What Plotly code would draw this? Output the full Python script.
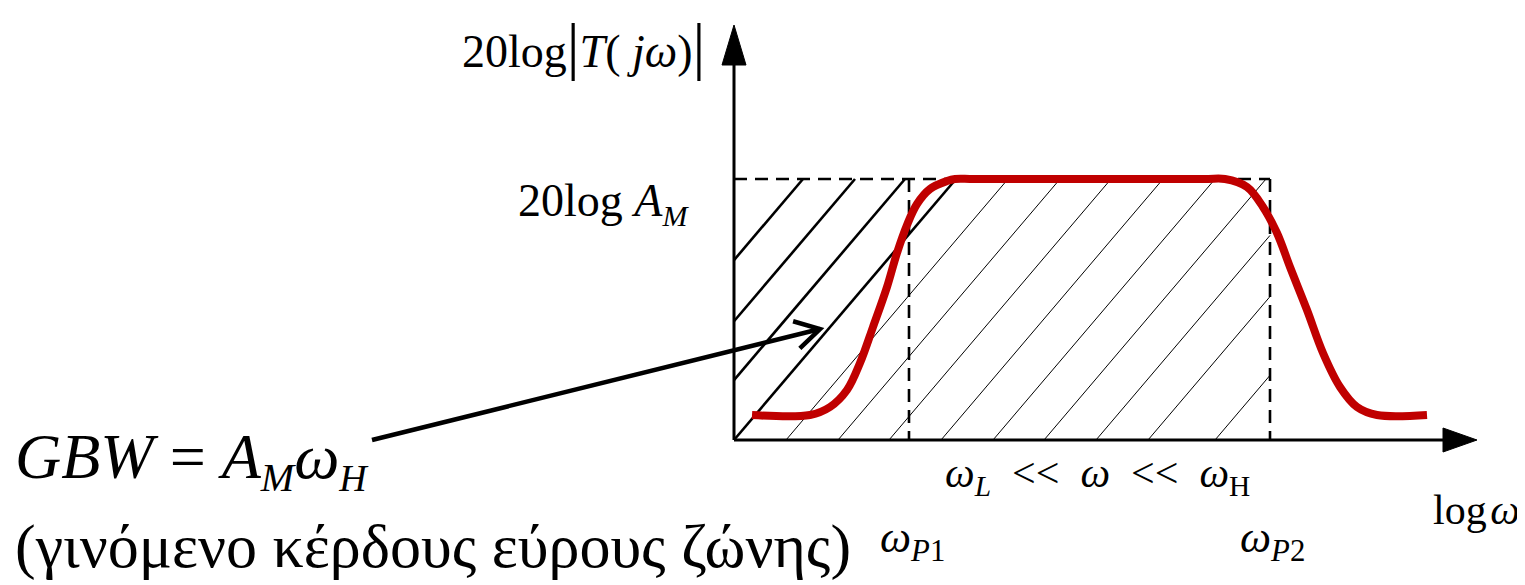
import math
import plotly.graph_objects as go

# ---------------- data (diagram units: x = log-frequency, y = gain in dB) ----------------
curve_logw = [18, 76, 96, 113, 126, 139, 153, 163, 173, 183, 196, 213, 221, 240,
              470, 491, 513, 529, 543, 556, 573, 589, 606, 623, 643, 693]
curve_db = [25, 25, 33, 50, 77, 113, 153, 187, 215, 236, 251, 259, 261, 261,
            261, 261, 253, 233, 207, 173, 130, 87, 53, 33, 25, 25]

gain_AM = 261          # 20log A_M level
w_P1 = 175             # lower corner frequency
w_P2 = 536             # upper corner frequency
y_axis_top = 415       # y-axis arrow tip
x_axis_end = 743       # x-axis arrow tip

hatch_thick_offsets = [-153, -101, -51, 0]
hatch_thin_offsets = [52, 104, 155, 207, 259, 310, 362, 414, 481]
hatch_slope = 261 / 222

arrow_tail = (-362, 0)
arrow_tip = (86, 111)

FONT = "Liberation Serif"
RED = "#C00000"

fig = go.Figure()

# ---------------- hatch ----------------
def hatch_segment(b):
    if b < 0:
        p0 = (0, -b * hatch_slope)
    else:
        p0 = (b, 0)
    xt = b + gain_AM / hatch_slope
    if xt > w_P2:
        p1 = (w_P2, (w_P2 - b) * hatch_slope)
    else:
        p1 = (xt, gain_AM)
    return p0, p1

for offsets, width in ((hatch_thin_offsets, 1), (hatch_thick_offsets, 2.6)):
    xs, ys = [], []
    for b in offsets:
        p0, p1 = hatch_segment(b)
        xs += [p0[0], p1[0], None]
        ys += [p0[1], p1[1], None]
    fig.add_trace(go.Scatter(x=xs, y=ys, mode="lines",
                             line=dict(color="black", width=width),
                             hoverinfo="skip", showlegend=False))

# ---------------- dashed guide lines ----------------
fig.add_trace(go.Scatter(
    x=[0, w_P2, None, w_P1, w_P1, None, w_P2, w_P2],
    y=[gain_AM, gain_AM, None, gain_AM, 0, None, gain_AM, 0],
    mode="lines", line=dict(color="black", width=2.6, dash="13px,8px"),
    hoverinfo="skip", showlegend=False))

# ---------------- axes with arrow heads ----------------
fig.add_trace(go.Scatter(
    x=[0, 0, None, 0, x_axis_end - 34],
    y=[y_axis_top - 40, 0, None, 0, 0],
    mode="lines", line=dict(color="black", width=3),
    hoverinfo="skip", showlegend=False))
fig.add_trace(go.Scatter(
    x=[-12, 12, 0, -12], y=[y_axis_top - 40, y_axis_top - 40, y_axis_top, y_axis_top - 40],
    mode="lines", fill="toself", fillcolor="black", line=dict(color="black", width=1),
    hoverinfo="skip", showlegend=False))
fig.add_trace(go.Scatter(
    x=[x_axis_end - 34, x_axis_end - 34, x_axis_end, x_axis_end - 34], y=[-12, 12, 0, -12],
    mode="lines", fill="toself", fillcolor="black", line=dict(color="black", width=1),
    hoverinfo="skip", showlegend=False))

# ---------------- red response curve ----------------
fig.add_trace(go.Scatter(
    x=curve_logw, y=curve_db, mode="lines",
    line=dict(color=RED, width=8, shape="spline", smoothing=1.0),
    hoverinfo="skip", showlegend=False))

# ---------------- pointer arrow ----------------
dx = arrow_tip[0] - arrow_tail[0]
dy = arrow_tip[1] - arrow_tail[1]
ang = math.atan2(dy, dx)
arm = 28
spread = math.radians(30)
a1 = (arrow_tip[0] - arm * math.cos(ang - spread), arrow_tip[1] - arm * math.sin(ang - spread))
a2 = (arrow_tip[0] - arm * math.cos(ang + spread), arrow_tip[1] - arm * math.sin(ang + spread))
fig.add_trace(go.Scatter(
    x=[arrow_tail[0], arrow_tip[0], None, a1[0], arrow_tip[0], a2[0]],
    y=[arrow_tail[1], arrow_tip[1], None, a1[1], arrow_tip[1], a2[1]],
    mode="lines", line=dict(color="black", width=4.5),
    hoverinfo="skip", showlegend=False))

# ---------------- text ----------------
def label(x, y, text, size, xanchor="left"):
    fig.add_annotation(x=x, y=y, xref="x", yref="y", text=text, showarrow=False,
                       xanchor=xanchor, yanchor="middle",
                       font=dict(family=FONT, size=size, color="black"))

def sub(t, px):
    return f"<sub><span style='font-size:{px}px'>{t}</span></sub>"

label(-274, 395, "20log<span style='font-size:64px'>|</span><i>T</i>( <i>jω</i>)<span style='font-size:64px'>|</span>", 46)
label(-218, 237, "20log <i>A</i>" + f"<i>{sub('M', 30)}</i>", 46)
label(-721, -20, "<i>GBW</i> = <i>A</i>" + f"<i>{sub('M', 40)}</i>" + "<i>ω</i>" + f"<i>{sub('H', 38)}</i>", 64)
label(-721, -106, "(γινόμενο κέρδους εύρους ζώνης)", 62)
label(209, -36, "<i>ω<sub>L</sub></i>  &lt;&lt;  <i>ω</i>  &lt;&lt;  <i>ω</i><sub>H</sub>", 42)
label(788, -70, "log\u200a<i>ω</i>", 42, xanchor="right")
label(144, -100, "<i>ω<sub>P</sub></i><sub>1</sub>", 44)
label(504, -100, "<i>ω<sub>P</sub></i><sub>2</sub>", 44)

# The page body keeps an 8px margin, so the figure is made 8px smaller and
# its ranges are chosen so the drawing lands where the reference has it.
fig.update_layout(
    width=1517, height=577,
    margin=dict(l=0, r=0, t=0, b=0),
    paper_bgcolor="white", plot_bgcolor="white",
    xaxis=dict(range=[-726, 791], visible=False, fixedrange=True),
    yaxis=dict(range=[-145, 432], visible=False, fixedrange=True),
    showlegend=False,
)

fig.write_html("out.html")
